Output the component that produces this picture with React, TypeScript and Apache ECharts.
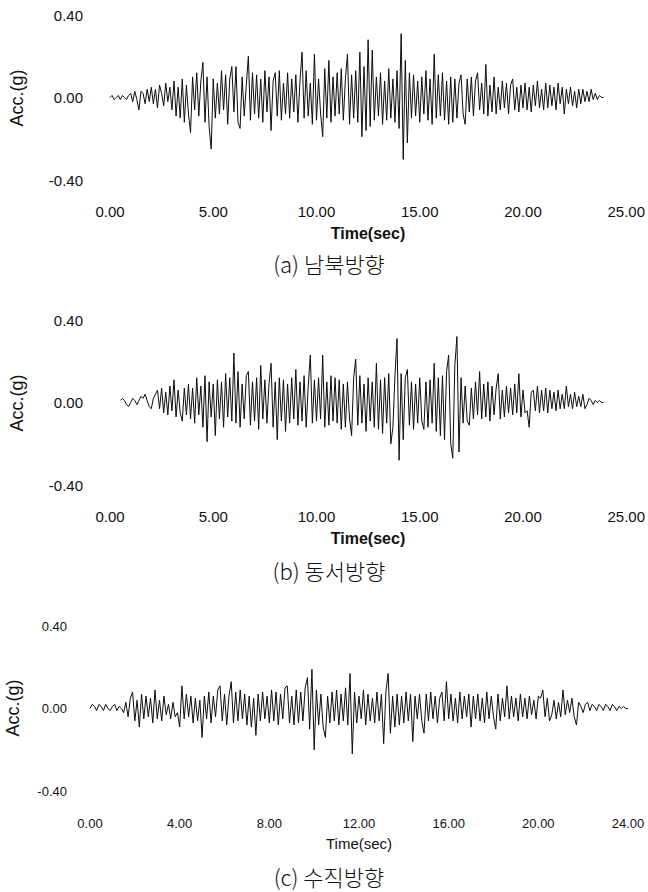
import React, { useEffect, useRef } from "react";
import * as echarts from "echarts";

// sample step (s)
const DT = 0.1;

// (a) 남북방향 acceleration (g), one value per 0.1 s from 0.0 s
const nsAcc: number[] = [
  0.00, 0.01, -0.01, 0.00, 0.01, -0.01, 0.01, 0.00, -0.01, 0.01,
  0.02, -0.02, 0.03, -0.01, -0.06, 0.03, 0.02, -0.03, 0.04, -0.02,
  0.05, -0.03, 0.04, -0.05, 0.06, 0.02, -0.04, 0.07, -0.02, 0.05,
  -0.06, 0.08, -0.09, 0.05, -0.10, 0.09, -0.12, 0.06, -0.08, -0.17,
  0.10, -0.06, 0.12, -0.09, 0.08, 0.17, -0.12, 0.10, -0.14, -0.25,
  0.09, -0.10, 0.07, -0.08, 0.13, -0.06, 0.11, -0.13, 0.09, 0.15,
  -0.07, 0.15, -0.12, -0.15, 0.10, -0.09, 0.06, 0.20, -0.11, 0.12,
  -0.08, 0.11, -0.10, 0.09, -0.12, 0.13, -0.07, 0.10, -0.16, 0.08,
  0.12, -0.09, 0.13, -0.11, 0.07, -0.08, 0.12, -0.10, 0.09, -0.07,
  0.11, -0.12, 0.08, 0.22, -0.10, 0.13, -0.09, 0.07, -0.13, 0.21,
  -0.11, 0.09, -0.08, -0.19, 0.14, -0.10, 0.18, -0.12, 0.10, -0.09,
  0.12, -0.08, 0.14, -0.11, 0.09, 0.21, -0.13, 0.11, -0.10, 0.13,
  -0.12, 0.22, -0.19, 0.15, -0.16, 0.28, -0.14, 0.23, -0.11, 0.10,
  -0.09, 0.12, -0.13, 0.08, -0.11, 0.14, -0.10, 0.09, -0.12, 0.13,
  -0.15, 0.31, -0.30, 0.18, -0.22, 0.12, -0.10, 0.11, -0.09, 0.08,
  -0.12, 0.10, -0.08, 0.13, -0.11, 0.09, -0.13, 0.21, -0.10, 0.11,
  -0.09, 0.12, -0.11, 0.08, -0.13, 0.10, -0.12, 0.09, -0.10, 0.07,
  0.11, -0.08, -0.13, 0.09, -0.07, 0.10, -0.09, 0.08, 0.12, -0.06,
  0.07, -0.08, 0.16, -0.09, 0.06, -0.07, 0.10, -0.08, 0.05, -0.06,
  0.08, -0.05, 0.07, -0.08, 0.06, 0.09, -0.06, 0.05, -0.07, 0.06,
  -0.05, 0.07, -0.06, 0.05, -0.07, 0.06, -0.04, 0.08, -0.05, 0.04,
  -0.06, 0.07, -0.05, 0.06, -0.04, 0.05, -0.06, 0.07, -0.03, 0.05,
  -0.08, 0.04, -0.03, 0.05, -0.04, 0.03, -0.05, 0.04, -0.03, 0.04,
  -0.02, 0.03, -0.02, 0.04, -0.01, 0.02, -0.01, 0.01, 0.00, 0.00,
];

// (b) 동서방향 acceleration (g); null = no record yet
const ewAcc: (number | null)[] = [
  null, null, null, null, null, 0.01, 0.02, 0.01, -0.01, -0.02,
  0.00, 0.02, 0.01, -0.01, 0.01, 0.03, 0.02, 0.04, 0.01, -0.02,
  -0.03, 0.02, 0.04, 0.06, -0.03, 0.07, -0.05, 0.05, -0.06, 0.08,
  -0.04, 0.11, -0.07, 0.06, -0.05, -0.09, 0.07, -0.06, 0.09, -0.08,
  0.07, -0.10, 0.12, -0.06, 0.08, -0.12, 0.13, -0.19, 0.10, -0.07,
  0.09, -0.16, 0.11, -0.08, 0.10, -0.12, 0.14, -0.07, 0.12, -0.09,
  0.24, -0.10, 0.15, -0.12, 0.09, -0.08, 0.13, 0.15, -0.11, 0.10,
  -0.09, 0.12, -0.13, 0.18, -0.08, 0.11, -0.10, 0.09, 0.19, -0.12,
  0.10, -0.18, 0.12, -0.09, 0.11, -0.14, 0.09, -0.10, 0.12, -0.08,
  0.16, -0.11, 0.10, -0.09, 0.13, -0.12, 0.08, 0.23, -0.10, 0.11,
  -0.09, 0.12, -0.08, 0.23, -0.12, 0.10, -0.11, 0.13, -0.09, 0.12,
  -0.10, 0.11, -0.13, 0.09, -0.12, 0.10, -0.08, -0.16, 0.12, 0.21,
  -0.11, 0.13, -0.10, 0.09, -0.14, 0.12, -0.09, 0.10, -0.12, 0.19,
  -0.13, 0.11, -0.15, 0.12, -0.10, 0.14, -0.20, -0.12, 0.13, 0.31,
  -0.28, 0.14, -0.18, 0.12, 0.16, -0.11, 0.10, -0.13, 0.09, -0.10,
  0.12, -0.09, -0.13, 0.10, -0.12, 0.11, -0.10, 0.19, -0.14, 0.12,
  -0.16, 0.13, -0.18, 0.15, 0.23, -0.20, -0.27, 0.18, 0.32, -0.24,
  0.12, -0.10, 0.08, -0.09, -0.11, 0.07, -0.08, 0.10, -0.06, 0.15,
  -0.08, 0.09, -0.07, 0.10, -0.09, 0.08, -0.06, 0.07, 0.14, -0.08,
  0.06, -0.07, 0.08, -0.05, 0.07, -0.06, 0.09, -0.05, 0.14, -0.07,
  0.06, -0.05, -0.04, -0.12, 0.05, 0.06, -0.04, 0.08, -0.05, 0.06,
  -0.04, 0.07, -0.05, 0.06, -0.03, 0.05, -0.04, 0.06, -0.03, 0.04,
  -0.03, 0.08, -0.02, 0.04, -0.03, 0.05, -0.02, 0.03, -0.02, 0.04,
  -0.03, -0.01, 0.02, 0.01, -0.01, 0.01, 0.00, 0.01, 0.00, 0.00,
];

// (c) 수직방향 acceleration (g)
const udAcc: number[] = [
  0.00, 0.02, 0.01, -0.01, 0.02, 0.01, -0.01, 0.02, 0.00, -0.01,
  0.01, 0.02, -0.01, 0.01, 0.00, -0.02, 0.03, -0.04, 0.05, 0.08,
  -0.06, 0.04, -0.09, 0.07, -0.05, 0.06, -0.04, 0.05, -0.07, 0.09,
  -0.05, 0.04, -0.06, 0.06, -0.03, 0.02, -0.05, 0.03, -0.04, -0.02,
  -0.09, 0.11, -0.05, 0.07, -0.04, 0.06, -0.07, 0.05, -0.06, 0.04,
  -0.14, 0.06, -0.05, 0.08, -0.07, 0.06, -0.04, 0.09, 0.11, -0.06,
  0.07, -0.08, 0.06, 0.13, -0.07, 0.08, -0.06, 0.09, -0.05, 0.07,
  -0.08, 0.06, -0.09, 0.05, -0.13, 0.07, -0.06, 0.08, -0.05, 0.06,
  -0.07, 0.09, -0.06, 0.08, -0.08, 0.07, -0.05, 0.10, 0.11, -0.07,
  0.06, -0.08, 0.09, -0.07, 0.08, -0.06, 0.10, 0.15, -0.10, 0.19,
  -0.20, 0.09, -0.08, 0.07, -0.09, -0.14, 0.06, -0.07, 0.08, -0.06,
  0.09, -0.08, 0.07, -0.06, 0.10, -0.08, 0.17, -0.22, 0.08, -0.07,
  0.06, -0.05, 0.09, -0.08, 0.07, -0.06, 0.05, -0.07, 0.08, -0.06,
  0.07, -0.17, 0.08, 0.17, -0.12, 0.06, -0.09, 0.07, -0.08, 0.06,
  -0.07, 0.08, -0.06, 0.07, -0.16, 0.06, -0.05, 0.07, -0.06, -0.12,
  0.07, -0.06, 0.08, -0.05, 0.06, -0.07, 0.05, 0.08, -0.06, 0.13,
  -0.05, 0.07, -0.06, 0.05, -0.07, 0.08, -0.05, 0.06, -0.04, 0.07,
  -0.09, 0.06, -0.05, 0.07, -0.06, 0.05, -0.07, 0.08, -0.05, 0.06,
  -0.04, -0.10, 0.07, -0.06, 0.05, -0.04, 0.11, -0.05, 0.06, -0.04,
  0.05, -0.06, 0.07, -0.04, 0.05, -0.05, 0.06, -0.03, 0.04, -0.05,
  0.06, 0.05, 0.09, -0.04, 0.05, -0.06, -0.03, 0.04, -0.05, 0.03,
  -0.04, 0.09, -0.03, 0.04, -0.02, 0.05, -0.04, -0.08, 0.03, 0.01,
  -0.02, 0.02, 0.03, -0.01, 0.02, 0.01, -0.01, 0.02, 0.01, -0.01,
  0.02, 0.01, -0.01, 0.02, 0.01, -0.01, 0.01, 0.00, 0.01, 0.00, 0.00,
];

const captions = ["(a) 남북방향", "(b) 동서방향", "(c) 수직방향"];
const xAxisName = "Time(sec)";
const yAxisName = "Acc.(g)";

const toPairs = (arr: (number | null)[]) =>
  arr.map((v, i) => [Number((i * DT).toFixed(2)), v === null ? "-" : v]);

export default function App() {
  const ref = useRef<HTMLDivElement>(null);
  useEffect(() => {
    if (!ref.current) return;
    const chart = echarts.init(ref.current, undefined, { renderer: "svg" });
    const fmt = (v: number) => v.toFixed(2);
    const abFont = { fontFamily: "Liberation Sans, Arial, sans-serif", fontSize: 15, color: "#111" };
    const cFont = {
      fontFamily: "Liberation Sans Narrow, Liberation Sans, Arial, sans-serif",
      fontSize: 13,
      color: "#111",
    };
    const hidden = { axisLine: { show: false }, axisTick: { show: false }, splitLine: { show: false } };
    const grids = [
      { left: 110, right: 21, top: 15, height: 165 },
      { left: 110, right: 21, top: 320, height: 165 },
      { left: 90, right: 20, top: 626, height: 165 },
    ];
    const xAxes = [0, 1, 2].map((i) => ({
      type: "value",
      gridIndex: i,
      min: 0,
      max: i < 2 ? 25 : 24,
      interval: i < 2 ? 5 : 4,
      ...hidden,
      axisLabel: { ...(i < 2 ? abFont : cFont), margin: i < 2 ? 24 : 26, formatter: fmt },
    }));
    const yAxes = [0, 1, 2].map((i) => ({
      type: "value",
      gridIndex: i,
      min: -0.4,
      max: 0.4,
      interval: 0.4,
      ...hidden,
      axisLabel: { ...(i < 2 ? abFont : cFont), margin: i < 2 ? 27 : 23, formatter: fmt },
    }));
    const seriesData = [nsAcc, ewAcc, udAcc];
    const series = seriesData.map((d, i) => ({
      type: "line",
      xAxisIndex: i,
      yAxisIndex: i,
      data: toPairs(d),
      showSymbol: false,
      connectNulls: false,
      lineStyle: { color: "#0d0d0d", width: 1 },
    }));
    const txt = (x: number, y: number, text: string, style: any, rotation = 0) => ({
      type: "text",
      x,
      y,
      rotation,
      style: { text, align: "center", verticalAlign: "middle", fill: "#111", ...style },
    });
    const nameFont = { fontFamily: "Liberation Sans, Arial, sans-serif", fontSize: 18 };
    const capFont = { fontFamily: "Noto Sans CJK KR, sans-serif", fontSize: 22, fontWeight: 300 };
    const graphic = [
      txt(17, 98, yAxisName, nameFont, Math.PI / 2),
      txt(17, 403, yAxisName, nameFont, Math.PI / 2),
      txt(13, 708, yAxisName, nameFont, Math.PI / 2),
      txt(368, 233, xAxisName, { ...nameFont, fontSize: 16, fontWeight: "bold" }),
      txt(368, 538, xAxisName, { ...nameFont, fontSize: 16, fontWeight: "bold" }),
      txt(359, 843, xAxisName, {
        fontFamily: "Liberation Sans Narrow, Liberation Sans, Arial, sans-serif",
        fontSize: 15,
      }),
      txt(329, 263, captions[0], capFont),
      txt(329, 570, captions[1], capFont),
      txt(329, 876, captions[2], capFont),
    ];
    chart.setOption({
      animation: false,
      backgroundColor: "#fff",
      grid: grids,
      xAxis: xAxes,
      yAxis: yAxes,
      series,
      graphic,
    });
    return () => chart.dispose();
  }, []);
  return (
    <div
      ref={ref}
      style={{ position: "absolute", left: 0, top: 0, width: 648, height: 892, background: "#fff" }}
    />
  );
}
